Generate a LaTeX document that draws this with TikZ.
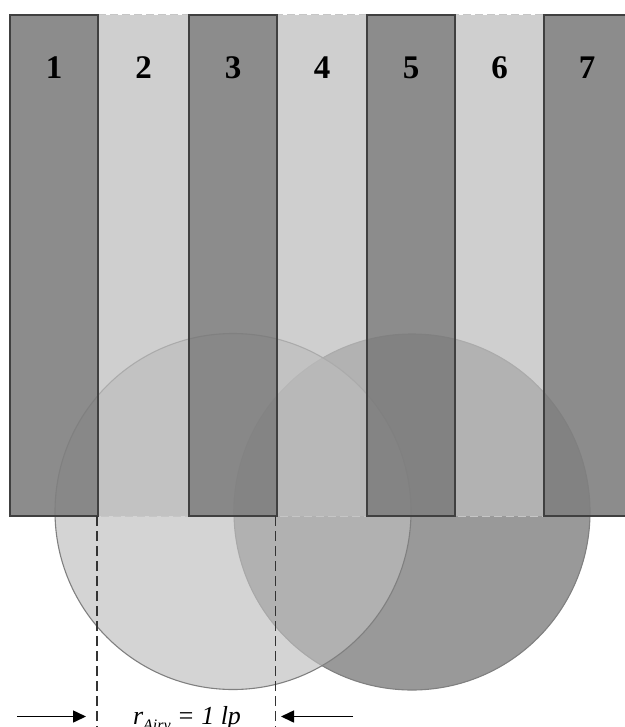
\documentclass[tikz,border=0pt]{standalone}
\usepackage{fontspec}
\setmainfont{Liberation Serif}
\usetikzlibrary{arrows.meta}
\definecolor{darkbar}{gray}{0.502}
\definecolor{lightbar}{gray}{0.737}
\definecolor{leftcirc}{gray}{0.745}
\definecolor{rightcirc}{gray}{0.6}
\definecolor{barline}{gray}{0.25}
\definecolor{circline}{gray}{0.5}
\tikzset{
  darkbox/.style={draw=barline, line width=1.4pt, fill=darkbar, fill opacity=0.907, draw opacity=1},
  lightbox/.style={fill=lightbar, fill opacity=0.72, draw=gray!45, dashed, dash pattern=on 8pt off 4pt, line width=1pt},
  numlabel/.style={font=\fontsize{33}{36}\selectfont\bfseries, text=black, text opacity=1},
  guide/.style={draw=black!80, line width=1.2pt, dash pattern=on 10pt off 5pt},
  dimarrow/.style={draw=black, line width=1.6pt, -{Triangle[length=13pt,width=12pt]}},
}
\begin{document}
\begin{tikzpicture}[x=1pt,y=-1pt]
\useasboundingbox (0,0) rectangle (624,727);
% circles
\draw[fill=rightcirc, draw=circline, line width=1.1pt] (412,512) circle (178) node (rc) {};
\draw[fill=leftcirc, fill opacity=0.66, draw=circline, line width=1.1pt] (233,511.5) circle (178) node (lc) {};
% light bars
\draw[lightbox] (98,15) rectangle (189,516);
\draw[lightbox] (277,15) rectangle (367,516);
\draw[lightbox] (455,15) rectangle (544,516);
% dark bars
\draw[darkbox] (10,15) rectangle (98,516);
\draw[darkbox] (189,15) rectangle (277,516);
\draw[darkbox] (367,15) rectangle (455,516);
\draw[darkbox] (544,15) rectangle (640,516);
% numbers
\node[numlabel] (n1) at (54,68) {1};
\node[numlabel] (n2) at (143.5,68) {2};
\node[numlabel] (n3) at (233,68) {3};
\node[numlabel] (n4) at (322,68) {4};
\node[numlabel] (n5) at (411,68) {5};
\node[numlabel] (n6) at (499.5,68) {6};
\node[numlabel] (n7) at (587,68) {7};
% guides
\coordinate (g1t) at (97,516);
\coordinate (g1b) at (97,730);
\coordinate (g2t) at (275.5,516);
\coordinate (g2b) at (275.5,730);
\draw[guide] (g1t) -- (g1b);
\draw[guide] (g2t) -- (g2b);
% arrows
\coordinate (a1s) at (17,716.5);
\coordinate (a1e) at (86,716.5);
\coordinate (a2s) at (353,716.5);
\coordinate (a2e) at (281,716.5);
\draw[dimarrow] (a1s) -- (a1e);
\draw[dimarrow] (a2s) -- (a2e);
% label
\node[anchor=base, font=\fontsize{26}{30}\selectfont\itshape, inner sep=0pt] (lab) at (187,724)
  {r\raisebox{-0.25em}{\fontsize{16}{18}\selectfont Airy} = 1 lp};
\end{tikzpicture}
\end{document}
